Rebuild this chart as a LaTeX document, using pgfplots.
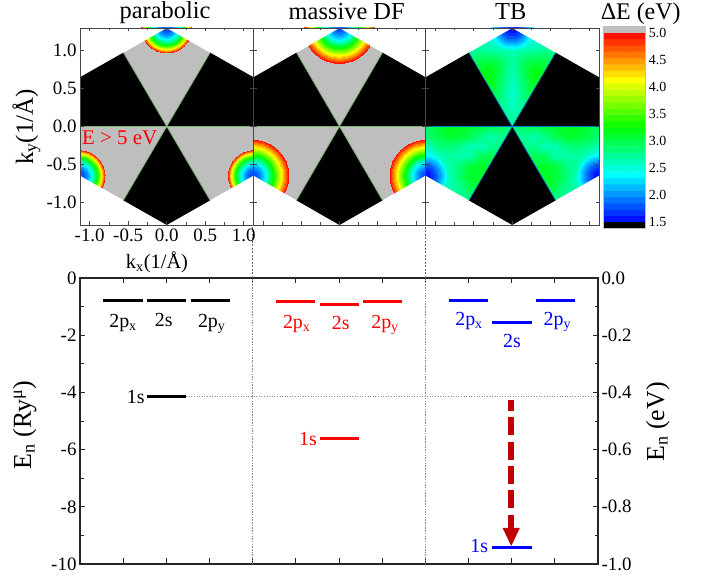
\documentclass[border=0pt]{standalone}
\usepackage{pgfplots}
\usepackage{pgfplotstable}
\usepackage{fontspec}
\setmainfont{Liberation Serif}
\pgfplotsset{compat=1.18}
\usetikzlibrary{arrows.meta}
\newcommand\PX[2]{({#1*1bp},{(581-#2)*1bp})}
\definecolor{framec}{RGB}{70,70,70}
\definecolor{grayfill}{RGB}{190,190,190}
\definecolor{edgeA}{RGB}{120,180,110}
\definecolor{edgeB}{RGB}{0,125,200}
\definecolor{arrowred}{RGB}{192,0,0}
\definecolor{divgray}{RGB}{140,140,140}
\pgfplotsset{colormap={rb}{rgb255=(0,0,255) rgb255=(0,255,255) rgb255=(0,255,0) rgb255=(255,255,0) rgb255=(255,0,0)}}

\pgfplotstableread{
r E
25.00 4.942
24.55 4.825
24.09 4.708
23.62 4.592
23.14 4.475
22.65 4.358
22.15 4.242
21.64 4.125
21.12 4.008
20.58 3.892
20.03 3.775
19.47 3.658
18.88 3.542
18.28 3.425
17.66 3.308
17.01 3.192
16.34 3.075
15.65 2.958
14.91 2.842
14.14 2.725
13.33 2.608
12.46 2.492
11.53 2.375
10.52 2.258
9.39 2.142
8.11 2.025
6.60 1.908
4.59 1.792
}\ringsA

\pgfplotstableread{
r E
35.33 4.942
34.29 4.825
33.26 4.708
32.22 4.592
31.18 4.475
30.15 4.358
29.11 4.242
28.07 4.125
27.04 4.008
26.00 3.892
24.96 3.775
23.93 3.658
22.89 3.542
21.85 3.425
20.82 3.308
19.78 3.192
18.74 3.075
17.71 2.958
16.67 2.842
15.63 2.725
14.60 2.608
13.56 2.492
12.52 2.375
11.40 2.258
9.80 2.142
8.10 2.025
6.20 1.908
4.00 1.792
}\ringsB

\pgfplotstableread{
r E
21 2.375
19 2.258
17 2.142
15 2.025
13 1.908
11 1.792
8 1.675
5 1.558
}\ringsC

\pgfplotstableread{
x y c
0 0 2.8
.14 0 2.8
.28 0 2.85
.42 0 2.9
.56 0 2.9
.70 0 2.9
0 .13 2.7
.14 .13 2.8
.28 .13 2.9
.42 .13 2.9
.56 .13 2.9
.70 .13 2.9
0 .26 2.6
.14 .26 2.75
.28 .26 2.9
.42 .26 3.0
.56 .26 3.0
.70 .26 3.0
0 .39 2.55
.14 .39 2.8
.28 .39 3.0
.42 .39 3.0
.56 .39 3.0
.70 .39 3.0
0 .52 2.55
.14 .52 2.85
.28 .52 3.15
.42 .52 3.1
.56 .52 3.0
.70 .52 3.0
0 .65 2.6
.14 .65 2.9
.28 .65 3.2
.42 .65 3.2
.56 .65 3.0
.70 .65 3.0
0 .78 2.65
.14 .78 2.95
.28 .78 3.15
.42 .78 3.1
.56 .78 3.0
.70 .78 2.9
0 .91 2.7
.14 .91 2.85
.28 .91 2.95
.42 .91 2.95
.56 .91 2.85
.70 .91 2.8
0 1.04 2.55
.14 1.04 2.6
.28 1.04 2.65
.42 1.04 2.7
.56 1.04 2.75
.70 1.04 2.8
0 1.17 2.35
.14 1.17 2.4
.28 1.17 2.5
.42 1.17 2.6
.56 1.17 2.7
.70 1.17 2.8
0 1.30 2.2
.14 1.30 2.3
.28 1.30 2.5
.42 1.30 2.6
.56 1.30 2.7
.70 1.30 2.8
}\fieldTop

\pgfplotstableread{
x y c
0 0 2.8
.14 0 2.9
.28 0 3.0
.42 0 3.05
.56 0 3.1
.70 0 3.15
.84 0 3.15
.98 0 3.05
1.126 0 2.9
0 -.13 2.8
.14 -.13 2.75
.28 -.13 2.65
.42 -.13 2.8
.56 -.13 3.0
.70 -.13 3.1
.84 -.13 3.1
.98 -.13 3.0
1.126 -.13 2.85
0 -.26 2.8
.14 -.26 2.8
.28 -.26 2.75
.42 -.26 2.6
.56 -.26 2.62
.70 -.26 2.8
.84 -.26 2.85
.98 -.26 2.8
1.126 -.26 2.6
0 -.39 2.9
.14 -.39 2.9
.28 -.39 3.0
.42 -.39 2.95
.56 -.39 2.65
.70 -.39 2.65
.84 -.39 2.7
.98 -.39 2.55
1.126 -.39 2.3
0 -.52 3.0
.14 -.52 3.0
.28 -.52 3.0
.42 -.52 3.15
.56 -.52 3.05
.70 -.52 2.8
.84 -.52 2.65
.98 -.52 2.4
1.126 -.52 2.2
0 -.65 3.0
.14 -.65 3.0
.28 -.65 3.1
.42 -.65 3.1
.56 -.65 3.1
.70 -.65 2.85
.84 -.65 2.6
.98 -.65 2.45
1.126 -.65 2.3
0 -.78 3.0
.14 -.78 3.0
.28 -.78 3.1
.42 -.78 3.1
.56 -.78 3.0
.70 -.78 2.75
.84 -.78 2.65
.98 -.78 2.6
1.126 -.78 2.6
0 -.91 2.9
.14 -.91 2.9
.28 -.91 2.9
.42 -.91 2.9
.56 -.91 2.85
.70 -.91 2.75
.84 -.91 2.7
.98 -.91 2.7
1.126 -.91 2.7
0 -1.04 2.8
.14 -1.04 2.8
.28 -1.04 2.8
.42 -1.04 2.8
.56 -1.04 2.8
.70 -1.04 2.8
.84 -1.04 2.8
.98 -1.04 2.8
1.126 -1.04 2.8
}\fieldLow

\pgfplotstableread{
x y
0 1.558
1 1.558
0 1.675
1 1.675
0 1.792
1 1.792
0 1.908
1 1.908
0 2.025
1 2.025
0 2.142
1 2.142
0 2.258
1 2.258
0 2.375
1 2.375
0 2.492
1 2.492
0 2.608
1 2.608
0 2.725
1 2.725
0 2.842
1 2.842
0 2.958
1 2.958
0 3.075
1 3.075
0 3.192
1 3.192
0 3.308
1 3.308
0 3.425
1 3.425
0 3.542
1 3.542
0 3.658
1 3.658
0 3.775
1 3.775
0 3.892
1 3.892
0 4.008
1 4.008
0 4.125
1 4.125
0 4.242
1 4.242
0 4.358
1 4.358
0 4.475
1 4.475
0 4.592
1 4.592
0 4.708
1 4.708
0 4.825
1 4.825
0 4.942
1 4.942
}\barTable

\pgfplotsset{
  upper/.style={
    scale only axis, anchor=south west, height=197bp,
    xmin=-1.126, xmax=1.126, ymin=-1.3, ymax=1.3,
    clip marker paths=true,
    axis on top, axis line style={draw=framec, line width=0.8bp},
    tick style={draw=framec, line width=0.6bp},
    tick align=inside, major tick length=3.5bp, minor tick length=2.5bp,
    xtick={-1,-.5,0,.5,1}, minor x tick num=1,
    ytick={-1,-.5,0,.5,1},
    colormap name=rb, point meta min=1.5, point meta max=5,
    tick label style={font=\fontsize{19}{22}\selectfont},
  },
  rings/.style={
    scatter, only marks, mark=*, point meta=explicit,
    scatter/use mapped color={draw=mapped color, fill=mapped color},
    visualization depends on={\thisrow{r}\as\rr},
    scatter/@pre marker code/.append style={/tikz/mark size=\rr bp},
    mark options={line width=0pt},
  },
  sector/.style={fill=#1, draw=none, forget plot},
}

\newcommand\grayparts{%
  \addplot[sector=grayfill] coordinates {(0,0)(-.563,.975)(0,1.3)(.563,.975)} --cycle;
  \addplot[sector=grayfill] coordinates {(0,0)(-1.126,0)(-1.126,-.65)(-.563,-.975)} --cycle;
  \addplot[sector=grayfill] coordinates {(0,0)(1.126,0)(1.126,-.65)(.563,-.975)} --cycle;
}
\newcommand\maskparts[1]{%
  \addplot[sector=white] coordinates {(-1.126,.65)(0,1.3)(-1.126,1.3)} --cycle;
  \addplot[sector=white] coordinates {(1.126,.65)(0,1.3)(1.126,1.3)} --cycle;
  \addplot[sector=white] coordinates {(-1.126,-.65)(0,-1.3)(-1.126,-1.3)} --cycle;
  \addplot[sector=white] coordinates {(1.126,-.65)(0,-1.3)(1.126,-1.3)} --cycle;
  \addplot[sector=black] coordinates {(0,0)(-.563,.975)(-1.126,.65)(-1.126,0)} --cycle;
  \addplot[sector=black] coordinates {(0,0)(.563,.975)(1.126,.65)(1.126,0)} --cycle;
  \addplot[sector=black] coordinates {(0,0)(-.563,-.975)(0,-1.3)(.563,-.975)} --cycle;
  \addplot[#1, line width=0.7bp] coordinates {(-.563,.975)(0,0)(.563,.975)};
  \addplot[#1, line width=0.7bp] coordinates {(-.563,-.975)(0,0)(.563,-.975)};
  \addplot[#1, line width=0.7bp] coordinates {(-1.126,0)(1.126,0)};
}
\newcommand\threerings[1]{%
  \addplot[rings] table[x expr=0, y expr=1.3, meta=E] {#1};
  \addplot[rings] table[x expr=-1.126, y expr=-.65, meta=E] {#1};
  \addplot[rings] table[x expr=1.126, y expr=-.65, meta=E] {#1};
}

\begin{document}
\begin{tikzpicture}
\useasboundingbox (0,0) rectangle (722bp,581bp);

% ---------- parabolic
\begin{axis}[upper, at={(80bp,356bp)}, width=173.5bp,
  xticklabels={-1.0,-0.5,0.0,0.5,1.0},
  yticklabels={-1.0,-0.5,0.0,0.5,1.0}]
  \grayparts
  \threerings{\ringsA}
  \maskparts{edgeA}
\end{axis}

% ---------- massive DF
\begin{axis}[upper, at={(253.5bp,356bp)}, width=172bp,
  xticklabel=\empty, yticklabel=\empty]
  \grayparts
  \threerings{\ringsB}
  \maskparts{edgeA}
\end{axis}

% ---------- TB
\begin{axis}[upper, at={(425.5bp,356bp)}, width=173.5bp,
  xticklabel=\empty, yticklabel=\empty]
  \addplot[surf, shader=interp, mesh/cols=6, point meta=explicit] table[x=x, y=y, meta=c] {\fieldTop};
  \addplot[surf, shader=interp, mesh/cols=6, point meta=explicit] table[x expr=-\thisrow{x}, y=y, meta=c] {\fieldTop};
  \addplot[surf, shader=interp, mesh/cols=9, point meta=explicit] table[x=x, y=y, meta=c] {\fieldLow};
  \addplot[surf, shader=interp, mesh/cols=9, point meta=explicit] table[x expr=-\thisrow{x}, y=y, meta=c] {\fieldLow};
  \threerings{\ringsC}
  \maskparts{edgeB}
\end{axis}

% ---------- colour bar
\begin{axis}[scale only axis, anchor=south west, at={(603bp,353bp)},
  width=42.3bp, height=202bp, xmin=0, xmax=1, ymin=1.389, ymax=5.124,
  xtick=\empty, ytick={1.5,2,2.5,3,3.5,4,4.5,5},
  yticklabels={1.5,2.0,2.5,3.0,3.5,4.0,4.5,5.0},
  yticklabel pos=right, major tick length=0pt,
  axis line style={draw=grayfill, line width=0.8bp},
  colormap name=rb, point meta min=1.5, point meta max=5,
  tick label style={font=\fontsize{14}{16}\selectfont},
  axis on top]
  \addplot[matrix plot*, mesh/cols=2, point meta=\thisrow{y}] table[x=x, y=y] {\barTable};
  \addplot[sector=grayfill] coordinates {(0,5)(1,5)(1,5.124)(0,5.124)} --cycle;
  \addplot[sector=black] coordinates {(0,1.389)(1,1.389)(1,1.5)(0,1.5)} --cycle;
\end{axis}

% ---------- energy levels
\begin{axis}[scale only axis, anchor=south west, at={(80bp,17bp)},
  width=518bp, height=286bp, xmin=0, xmax=12, ymin=-10, ymax=0,
  clip=false,
  xtick={1,...,11}, xticklabel=\empty, ytick={-10,-8,-6,-4,-2,0},
  yticklabels={-10,-8,-6,-4,-2,0},
  minor y tick num=1, ytick pos=left, tick align=inside,
  major tick length=5.5bp, minor tick length=3.5bp,
  axis line style={draw=black!85, line width=1.1bp},
  tick style={draw=black!85, line width=0.8bp},
  tick label style={font=\fontsize{19}{22}\selectfont}]
  % dividers
  \addplot[divgray, line width=1bp, dash pattern=on 1.5bp off 1.2bp] coordinates {(4,-10)(4,0)};
  \addplot[divgray, line width=1bp, dash pattern=on 1.5bp off 1.2bp] coordinates {(8,-10)(8,0)};
  \addplot[black!60, line width=0.7bp, dash pattern=on 2bp off 1.5bp] coordinates {(4,0)(4,1.85)};
  \addplot[black!60, line width=0.7bp, dash pattern=on 2bp off 1.5bp] coordinates {(8,0)(8,1.85)};
  \addplot[divgray, line width=0.6bp, dotted] coordinates {(2.46,-4.15)(12,-4.15)};
  % parabolic
  \addplot[black, line width=3bp] coordinates {(.54,-.77)(1.45,-.77)};
  \addplot[black, line width=3bp] coordinates {(1.55,-.78)(2.46,-.78)};
  \addplot[black, line width=3bp] coordinates {(2.56,-.77)(3.47,-.77)};
  \addplot[black, line width=3bp] coordinates {(1.55,-4.15)(2.46,-4.15)};
  % massive DF
  \addplot[red, line width=3bp] coordinates {(4.54,-.83)(5.45,-.83)};
  \addplot[red, line width=3bp] coordinates {(5.55,-.94)(6.46,-.94)};
  \addplot[red, line width=3bp] coordinates {(6.56,-.82)(7.47,-.82)};
  \addplot[red, line width=3bp] coordinates {(5.55,-5.6)(6.46,-5.6)};
  % TB
  \addplot[blue, line width=3bp] coordinates {(8.54,-.79)(9.45,-.79)};
  \addplot[blue, line width=3bp] coordinates {(9.55,-1.54)(10.46,-1.54)};
  \addplot[blue, line width=3bp] coordinates {(10.56,-.79)(11.47,-.79)};
  \addplot[blue, line width=3bp] coordinates {(9.55,-9.44)(10.46,-9.44)};
  % arrow
  \addplot[arrowred, line width=6bp, dash pattern=on 18bp off 6.3bp, dash phase=7bp] coordinates {(9.99,-4.27)(9.99,-8.75)};
  \addplot[sector=arrowred] coordinates {(9.79,-8.74)(10.19,-8.74)(9.99,-9.37)} --cycle;
\end{axis}

\begin{axis}[scale only axis, anchor=south west, at={(80bp,17bp)},
  width=518bp, height=286bp, xmin=0, xmax=12, ymin=-1, ymax=0,
  hide x axis, axis y line*=right, ytick pos=right,
  ytick={-1,-.8,-.6,-.4,-.2,0},
  yticklabels={-1.0,-0.8,-0.6,-0.4,-0.2,0.0},
  minor y tick num=1, tick align=inside,
  major tick length=5.5bp, minor tick length=3.5bp,
  axis line style={draw=black!85, line width=1.1bp},
  tick style={draw=black!85, line width=0.8bp},
  tick label style={font=\fontsize{19}{22}\selectfont}]
\end{axis}

% ---------- text
\begin{scope}[every node/.style={inner sep=0pt, anchor=base}]
\node[font=\fontsize{24.5}{28}\selectfont] at \PX{165}{19} {parabolic};
\node[font=\fontsize{24.5}{28}\selectfont] at \PX{346.7}{20} {massive DF};
\node[font=\fontsize{24.5}{28}\selectfont] at \PX{510.7}{20} {TB};
\node[font=\fontsize{24}{28}\selectfont] at \PX{640.7}{20} {ΔE (eV)};
\node[font=\fontsize{21}{24}\selectfont, text=red, anchor=base west] at \PX{82}{145} {E > 5 eV};
\node[font=\fontsize{20.5}{24}\selectfont] at \PX{157}{268} {k\textsubscript{x}(1/Å)};
\node[font=\fontsize{25}{28}\selectfont, rotate=90] at \PX{33}{127} {k\textsubscript{y}(1/Å)};
\node[font=\fontsize{26}{30}\selectfont, rotate=90] at \PX{31}{425} {E\textsubscript{n} (Ry\textsuperscript{μ})};
\node[font=\fontsize{26}{30}\selectfont, rotate=90] at \PX{664}{422} {E\textsubscript{n} (eV)};
\begin{scope}[font=\fontsize{20}{24}\selectfont]
\node at \PX{123}{327.3} {2p\textsubscript{x}};
\node at \PX{163.7}{326.7} {2s};
\node at \PX{211.7}{327} {2p\textsubscript{y}};
\node at \PX{135.7}{403.3} {1s};
\node[text=red] at \PX{296.7}{328} {2p\textsubscript{x}};
\node[text=red] at \PX{340.7}{329} {2s};
\node[text=red] at \PX{385}{328} {2p\textsubscript{y}};
\node[text=red] at \PX{308}{445} {1s};
\node[text=blue] at \PX{469}{325} {2p\textsubscript{x}};
\node[text=blue] at \PX{512}{347.3} {2s};
\node[text=blue] at \PX{557.3}{325} {2p\textsubscript{y}};
\node[text=blue] at \PX{479.3}{552.7} {1s};
\end{scope}
\end{scope}
\end{tikzpicture}
\end{document}
